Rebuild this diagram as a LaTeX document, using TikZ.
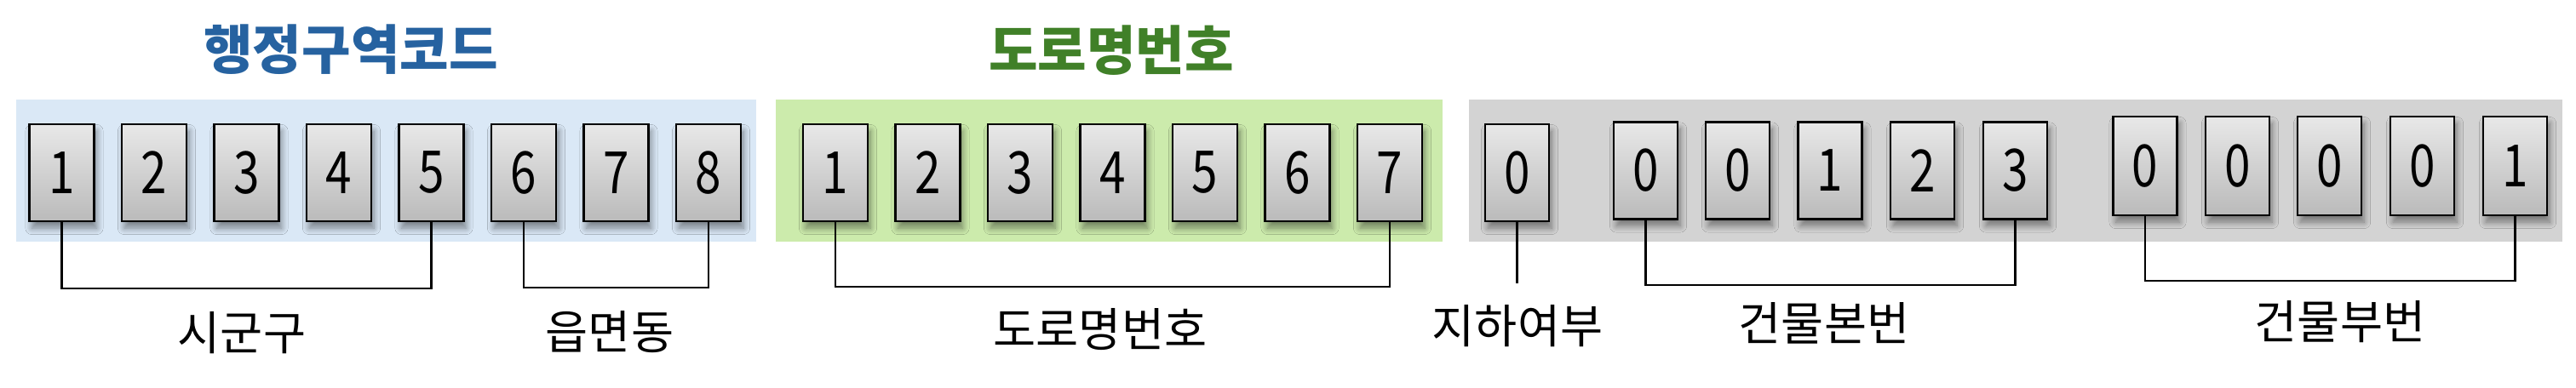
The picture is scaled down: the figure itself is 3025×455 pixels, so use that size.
\documentclass[tikz,border=0pt]{standalone}
\usepackage{fontspec}
\setmainfont{Noto Sans CJK KR}
\newfontfamily\digitfont[FakeStretch=0.8]{Noto Sans CJK KR}
\usetikzlibrary{shadows.blur}

\definecolor{admincolor}{RGB}{38,98,160}
\definecolor{roadcolor}{RGB}{64,128,40}
\definecolor{adminpanel}{RGB}{218,232,246}
\definecolor{roadpanel}{RGB}{204,235,172}
\definecolor{buildpanel}{RGB}{211,211,211}

\begin{document}
\begin{tikzpicture}[x=0.1mm, y=-0.1mm,
    digit/.style={draw=black, line width=0.26mm, top color=black!9, bottom color=black!27,
      minimum width=7.6mm, minimum height=11.4mm, inner sep=0pt,
      font=\digitfont\fontsize{19.5pt}{21pt}\selectfont,
      blur shadow={shadow xshift=0.3mm, shadow yshift=-0.8mm, shadow opacity=45, shadow blur steps=8}},
    partname/.style={font=\fontsize{15.5pt}{17pt}\selectfont},
    titletext/.style={font=\bfseries\fontsize{17.8pt}{19pt}\selectfont},
    bracket/.style={line width=0.22mm}]
      \useasboundingbox (0,0) rectangle (3025,455);
      % background panels
      \fill[adminpanel] (19,117) rectangle (888,284);
      \fill[roadpanel] (911,117) rectangle (1694,284);
      \fill[buildpanel] (1725,117) rectangle (3009,284);
      % titles
      \node[titletext,text=admincolor] (admintitle) at (412,58) {행정구역코드};
      \node[titletext,text=roadcolor] (roadtitle) at (1305,59) {도로명번호};
      % administrative code
      \node[digit] (a1) at (72.5,203) {1};
      \node[digit] (a2) at (181,203) {2};
      \node[digit] (a3) at (289.5,203) {3};
      \node[digit] (a4) at (398,203) {4};
      \node[digit] (a5) at (506.5,203) {5};
      \node[digit] (a6) at (615,203) {6};
      \node[digit] (a7) at (723.5,203) {7};
      \node[digit] (a8) at (832,203) {8};
      % road name number
      \node[digit] (r1) at (981,203) {1};
      \node[digit] (r2) at (1089.5,203) {2};
      \node[digit] (r3) at (1198,203) {3};
      \node[digit] (r4) at (1306.5,203) {4};
      \node[digit] (r5) at (1415,203) {5};
      \node[digit] (r6) at (1523.5,203) {6};
      \node[digit] (r7) at (1632,203) {7};
      % basement flag, main and sub building numbers
      \node[digit,minimum width=7.5mm] (u0) at (1781.5,203) {0};
      \node[digit,minimum width=7.5mm] (m1) at (1932.5,200.5) {0};
      \node[digit,minimum width=7.5mm] (m2) at (2040.5,200.5) {0};
      \node[digit,minimum width=7.5mm] (m3) at (2149,200.5) {1};
      \node[digit,minimum width=7.5mm] (m4) at (2257.5,200.5) {2};
      \node[digit,minimum width=7.5mm] (m5) at (2366.5,200.5) {3};
      \node[digit,minimum width=7.5mm,minimum height=11.6mm] (s1) at (2519,195) {0};
      \node[digit,minimum width=7.5mm,minimum height=11.6mm] (s2) at (2627.5,195) {0};
      \node[digit,minimum width=7.5mm,minimum height=11.6mm] (s3) at (2735.5,195) {0};
      \node[digit,minimum width=7.5mm,minimum height=11.6mm] (s4) at (2844.5,195) {0};
      \node[digit,minimum width=7.5mm,minimum height=11.6mm] (s5) at (2953.5,195) {1};
      % part names
      \node[partname] (sigungu) at (284,391) {시군구};
      \node[partname] (eupmyeon) at (716,390) {읍면동};
      \node[partname] (roadname) at (1292,387) {도로명번호};
      \node[partname] (basement) at (1782,383) {지하여부};
      \node[partname] (mainno) at (2142,380) {건물본번};
      \node[partname] (subno) at (2748,378) {건물부번};
      % brackets
      \draw[bracket] (a1.south) -- ++(0,78) -| (a5.south);
      \draw[bracket] (a6.south) -- ++(0,77) -| (a8.south);
      \draw[bracket] (r1.south) -- ++(0,76) -| (r7.south);
      \draw[bracket] (u0.south) -- ++(0,72);
      \draw[bracket] (m1.south) -- ++(0,76) -| (m5.south);
      \draw[bracket] (s1.south) -- ++(0,76) -| (s5.south);
   \end{tikzpicture}
\end{document}
